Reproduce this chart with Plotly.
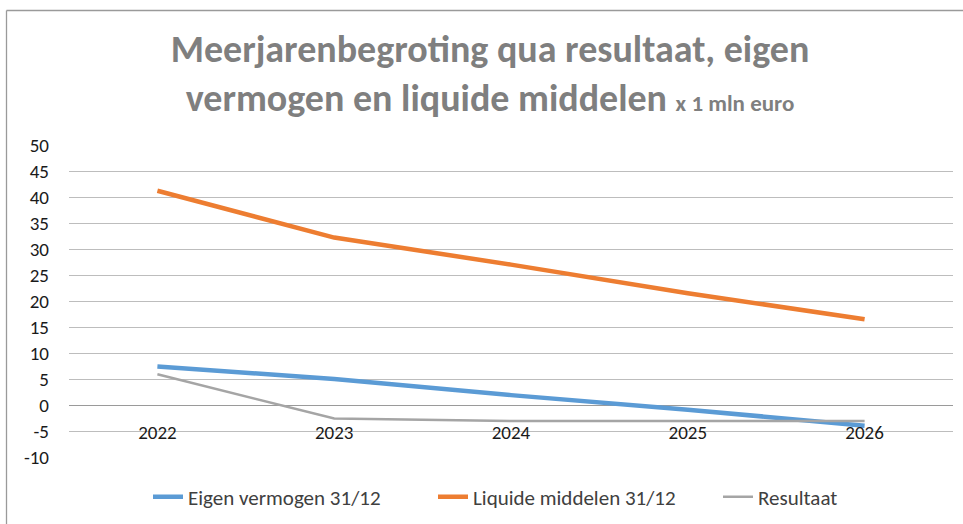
import plotly.graph_objects as go

years = ["2022", "2023", "2024", "2025", "2026"]
eigen_vermogen = [7.4, 5.0, 1.9, -0.9, -4.0]
liquide_middelen = [41.2, 32.2, 27.0, 21.5, 16.5]
resultaat = [5.9, -2.6, -3.1, -3.1, -3.1]

y_ticks = list(range(-10, 51, 5))
y_ticktext = [str(v) for v in y_ticks]
y_min, y_max = -10, 50

W, H = 963, 524
ML, MR, MT, MB = 69, 10, 145, 67
FONT = "Carlito, Lato, sans-serif"

fig = go.Figure()
fig.add_trace(go.Scatter(x=years, y=eigen_vermogen, mode="lines", name="Eigen vermogen 31/12",
                         line=dict(color="#5B9BD5", width=4.5)))
fig.add_trace(go.Scatter(x=years, y=liquide_middelen, mode="lines", name="Liquide middelen 31/12",
                         line=dict(color="#ED7D31", width=4.5)))
fig.add_trace(go.Scatter(x=years, y=resultaat, mode="lines", name="Resultaat",
                         line=dict(color="#A5A5A5", width=2.5)))

plot_h = H - MT - MB
plot_w = W - ML - MR
zero_pos = (0 - y_min) / (y_max - y_min)

# outer chart border (top and left visible)
x0 = (6.5 - ML) / plot_w
y1 = (H - 10.5 - MB) / plot_h
fig.add_shape(type="line", xref="paper", yref="paper", x0=x0, x1=1.2, y0=y1, y1=y1,
              line=dict(color="#9A9A9A", width=1.3))
fig.add_shape(type="line", xref="paper", yref="paper", x0=x0, x1=x0, y0=-0.5, y1=y1,
              line=dict(color="#9A9A9A", width=1.3))

fig.update_layout(
    width=W, height=H,
    margin=dict(l=ML, r=MR, t=MT, b=MB, autoexpand=False),
    paper_bgcolor="white", plot_bgcolor="white",
    font=dict(family=FONT, color="#404040", size=17),
    title=dict(
        text="<b>Meerjarenbegroting qua resultaat, eigen<br>vermogen en liquide middelen</b> "
             "<b><span style='font-size:23px'>x 1 mln euro</span></b>",
        font=dict(family=FONT, size=38, color="#7F7F7F"),
        x=490 / W, xanchor="center", xref="container",
        y=1 - 62 / H, yanchor="top", yref="container",
    ),
    showlegend=True,
    legend=dict(orientation="h", x=148 / W, xanchor="left",
                xref="container", yref="container", y=1 - 497 / H, yanchor="middle",
                font=dict(size=21, color="#404040"),
                entrywidthmode="pixels", entrywidth=240,
                itemwidth=30),
    xaxis=dict(
        type="category", range=[-0.5, 4.5],
        showgrid=False, showline=False, ticks="",
        anchor="free", position=zero_pos,
        ticklabelstandoff=14,
        tickfont=dict(size=19, color="#1a1a1a"),
    ),
    yaxis=dict(
        range=[y_min, y_max], tickvals=y_ticks, ticktext=y_ticktext,
        showgrid=True, gridcolor="#BDBDBD", gridwidth=1.3,
        zeroline=True, zerolinecolor="#9A9A9A", zerolinewidth=1.3,
        showline=False, ticks="",
        ticklabelstandoff=19,
        tickfont=dict(size=19, color="#1a1a1a"),
    ),
)

fig.write_html("out.html", config={"displayModeBar": False},
               post_script="document.body.style.margin='0px';")
